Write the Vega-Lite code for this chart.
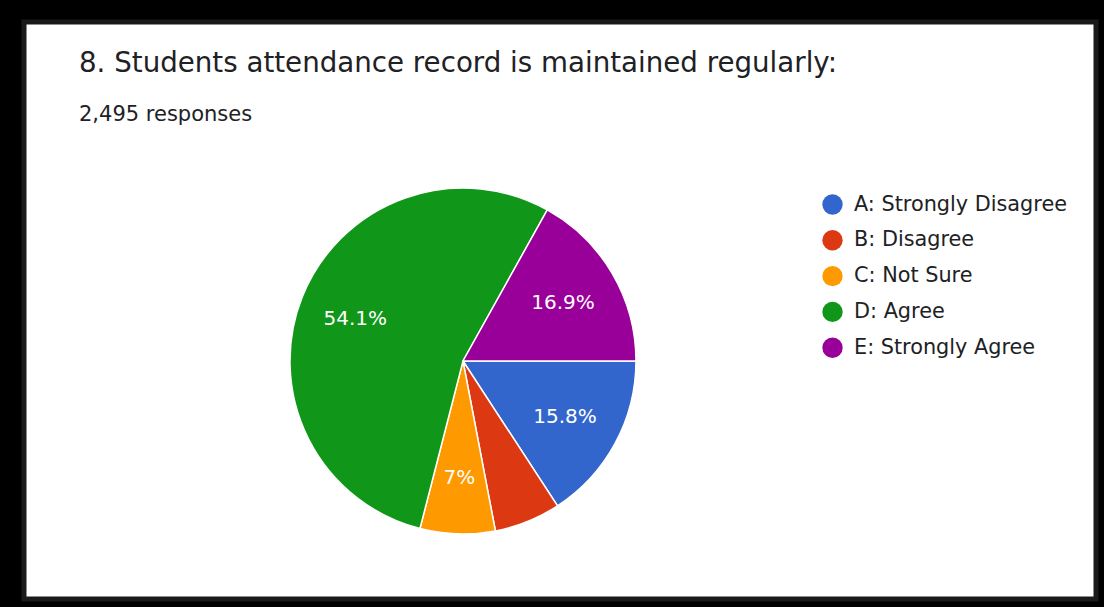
{
  "$schema": "https://vega.github.io/schema/vega-lite/v6.json",
  "width": 1072,
  "height": 577,
  "autosize": {"type": "none"},
  "padding": {"left": 24, "top": 22, "right": 8, "bottom": 8},
  "background": "#000000",
  "config": {"view": {"fill": "#ffffff", "stroke": "#1a1a1a", "strokeWidth": 5}},
  "title": {
    "text": "8. Students attendance record is maintained regularly:",
    "subtitle": "2,495 responses",
    "anchor": "start",
    "frame": "group",
    "dx": 55,
    "offset": -103,
    "font": "DejaVu Sans",
    "fontSize": 27.7,
    "fontWeight": "normal",
    "color": "#202124",
    "subtitleFont": "DejaVu Sans",
    "subtitleFontSize": 21,
    "subtitleColor": "#202124",
    "subtitlePadding": 26
  },
  "data": {
    "values": [
      {"answer": "A: Strongly Disagree", "pct": 15.8, "label": "15.8%"},
      {"answer": "B: Disagree", "pct": 6.2, "label": ""},
      {"answer": "C: Not Sure", "pct": 7.0, "label": "7%"},
      {"answer": "D: Agree", "pct": 54.1, "label": "54.1%"},
      {"answer": "E: Strongly Agree", "pct": 16.9, "label": "16.9%"}
    ]
  },
  "encoding": {
    "theta": {"field": "pct", "type": "quantitative", "stack": true, "scale": {"range": [1.5707963, 7.8539816]}},
    "order": {"field": "answer", "type": "nominal", "sort": "ascending"},
    "x": {"value": {"expr": "width * 0.4095"}},
    "y": {"value": {"expr": "height * 0.5875"}}
  },
  "layer": [
    {
      "mark": {"type": "arc", "outerRadius": 173, "stroke": "#ffffff", "strokeWidth": 1.5},
      "encoding": {
        "color": {
          "field": "answer",
          "type": "nominal",
          "scale": {
            "domain": ["A: Strongly Disagree", "B: Disagree", "C: Not Sure", "D: Agree", "E: Strongly Agree"],
            "range": ["#3366cc", "#dc3912", "#ff9900", "#109618", "#990099"]
          },
          "legend": {
            "orient": "none",
            "legendX": 798,
            "legendY": 172,
            "title": null,
            "symbolType": "circle",
            "symbolSize": 415,
            "symbolStrokeWidth": 0,
            "symbolOpacity": 1,
            "labelFontSize": 20.8,
            "labelFont": "DejaVu Sans",
            "labelColor": "#202124",
            "labelLimit": 320,
            "rowPadding": 13.8,
            "labelOffset": 11,
            "padding": 0
          }
        }
      }
    },
    {
      "mark": {"type": "text", "radius": 116, "dy": 1, "fontSize": 20, "font": "DejaVu Sans", "fill": "#ffffff"},
      "encoding": {
        "detail": {"field": "answer", "type": "nominal"},
        "text": {"field": "label", "type": "nominal"}
      }
    }
  ]
}
